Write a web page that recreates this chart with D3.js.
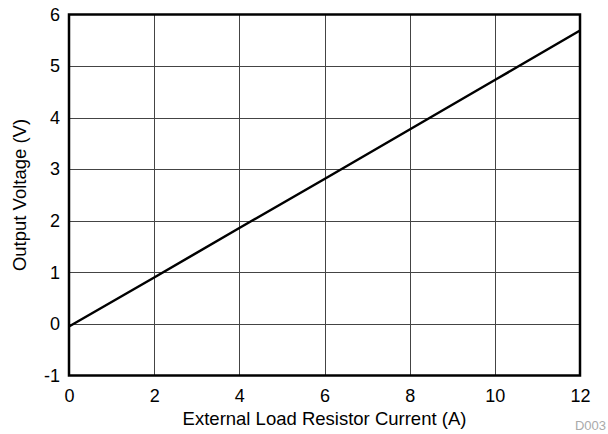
<!DOCTYPE html>
<html>
<head>
<meta charset="utf-8">
<script src="https://cdn.jsdelivr.net/npm/d3@7"></script>
<style>
  body { margin: 0; background: #fff; }
  svg { display: block; font-family: "Liberation Sans", Arial, sans-serif; }
</style>
</head>
<body>
<div id="chart"></div>
<script>
const currentA = [0, 2, 4, 6, 8, 10, 12];
const outputV = [-0.05, 0.9, 1.86, 2.81, 3.77, 4.73, 5.69];
const xTicks = [0, 2, 4, 6, 8, 10, 12];
const yTicks = [-1, 0, 1, 2, 3, 4, 5, 6];

const width = 608;
const height = 434;
const margin = { top: 14.5, right: 28, bottom: 58.5, left: 69 };

const svg = d3.select('#chart')
  .append('svg')
  .attr('width', width)
  .attr('height', height);

const x = d3.scaleLinear()
  .domain([0, 12])
  .range([margin.left, width - margin.right]);
const y = d3.scaleLinear()
  .domain([-1, 6])
  .range([height - margin.bottom, margin.top]);

// grid
svg.append('g')
  .selectAll('line')
  .data(xTicks.slice(1, -1))
  .enter()
  .append('line')
  .attr('x1', (d) => Math.round(x(d)) + 0.5)
  .attr('x2', (d) => Math.round(x(d)) + 0.5)
  .attr('y1', y(-1))
  .attr('y2', y(6))
  .attr('stroke', '#444')
  .attr('stroke-width', 1);

svg.append('g')
  .selectAll('line')
  .data(yTicks.slice(1, -1))
  .enter()
  .append('line')
  .attr('x1', x(0))
  .attr('x2', x(12))
  .attr('y1', (d) => Math.round(y(d)) + 0.5)
  .attr('y2', (d) => Math.round(y(d)) + 0.5)
  .attr('stroke', '#444')
  .attr('stroke-width', 1);

// axes (labels only)
const xAxis = svg.append('g')
  .attr('transform', `translate(0, ${y(-1)})`)
  .call(d3.axisBottom(x).tickValues(xTicks).tickSize(0).tickPadding(14)
    .tickFormat((d) => String(d)));
xAxis.select('.domain').remove();
xAxis.selectAll('text')
  .style('font-size', '18px')
  .attr('fill', '#000');

const yAxis = svg.append('g')
  .attr('transform', `translate(${x(0)}, 0)`)
  .call(d3.axisLeft(y).tickValues(yTicks).tickSize(0).tickPadding(9)
    .tickFormat((d) => String(d)));
yAxis.select('.domain').remove();
yAxis.selectAll('text')
  .style('font-size', '18px')
  .attr('fill', '#000');

// data line
const line = d3.line()
  .x((d, i) => x(currentA[i]))
  .y((d) => y(d));

svg.append('path')
  .datum(outputV)
  .attr('fill', 'none')
  .attr('stroke', '#000')
  .attr('stroke-width', 2.5)
  .attr('d', line);

// frame
svg.append('rect')
  .attr('x', x(0))
  .attr('y', y(6))
  .attr('width', x(12) - x(0))
  .attr('height', y(-1) - y(6))
  .attr('fill', 'none')
  .attr('stroke', '#000')
  .attr('stroke-width', 2.5);

// titles
svg.append('text')
  .attr('x', (x(0) + x(12)) / 2)
  .attr('y', 425)
  .attr('text-anchor', 'middle')
  .style('font-size', '18.5px')
  .text('External Load Resistor Current (A)');

svg.append('text')
  .attr('transform', `translate(26, ${(y(-1) + y(6)) / 2}) rotate(-90)`)
  .attr('text-anchor', 'middle')
  .style('font-size', '18.5px')
  .text('Output Voltage (V)');

svg.append('text')
  .attr('x', 606)
  .attr('y', 430)
  .attr('text-anchor', 'end')
  .attr('fill', '#aaa')
  .style('font-size', '13px')
  .text('D003');
</script>
</body>
</html>
